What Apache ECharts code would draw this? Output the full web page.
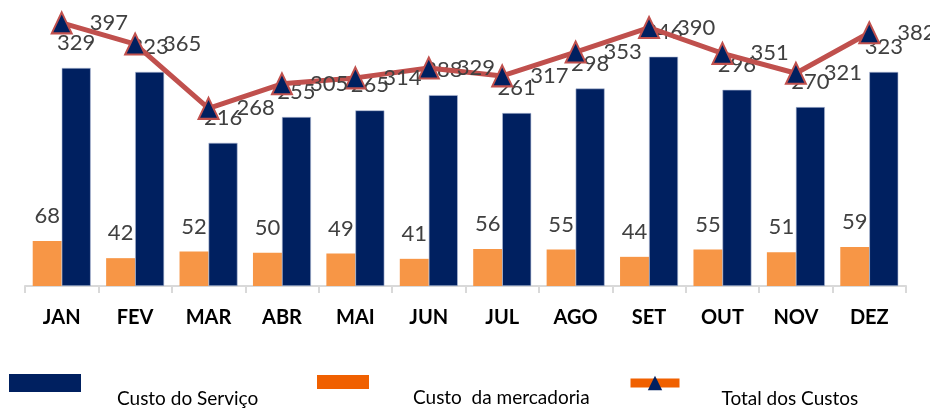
<!DOCTYPE html>
<html>
<head>
<meta charset="utf-8">
<script src="https://cdn.jsdelivr.net/npm/echarts@6/dist/echarts.min.js"></script>
<style>
  html, body { margin: 0; padding: 0; background: #fff; }
  #main { width: 930px; height: 409px; }
</style>
</head>
<body>
<div id="main"></div>
<script>
var meses = ['JAN', 'FEV', 'MAR', 'ABR', 'MAI', 'JUN', 'JUL', 'AGO', 'SET', 'OUT', 'NOV', 'DEZ'];
var custoServico = [329, 323, 216, 255, 265, 288, 261, 298, 346, 296, 270, 323];
var custoMercadoria = [68, 42, 52, 50, 49, 41, 56, 55, 44, 55, 51, 59];
var totalCustos = [397, 365, 268, 305, 314, 329, 317, 353, 390, 351, 321, 382];

var chart = echarts.init(document.getElementById('main'));

var fonte = 'Lato, "Open Sans", sans-serif';
var rotulo = {
    show: true,
    color: '#404040',
    fontSize: 22,
    fontFamily: fonte
};

// legenda: tres blocos soltos, texto um pouco abaixo do icone (linha vazia antes)
var textoLegenda = function (padLeft) {
    return {
        color: '#000',
        fontSize: 19,
        lineHeight: 32,
        fontFamily: fonte,
        padding: [0, 0, 0, padLeft]
    };
};
var abaixo = function (name) { return '\n' + name; };

var option = {
    animation: false,
    grid: { left: 25, right: 24, top: 1, bottom: 123 },
    legend: [
        {
            left: 9, top: 351, padding: 0,
            itemWidth: 72, itemHeight: 18,
            selectedMode: false,
            formatter: abaixo,
            data: [{ name: 'Custo do Serviço', icon: 'rect', itemStyle: { borderWidth: 0 } }],
            textStyle: textoLegenda(31)
        },
        {
            left: 317, top: 350, padding: 0,
            itemWidth: 52, itemHeight: 14,
            selectedMode: false,
            formatter: abaixo,
            data: [{ name: 'Custo  da mercadoria', icon: 'rect', itemStyle: { color: '#f06000', borderWidth: 0 } }],
            textStyle: textoLegenda(39)
        },
        {
            left: 626, top: 351, padding: 0,
            itemWidth: 49, itemHeight: 18,
            selectedMode: false,
            formatter: abaixo,
            data: [{
                name: 'Total dos Custos',
                itemStyle: { color: '#002060', borderWidth: 0 },
                lineStyle: { color: '#f06000', width: 9 }
            }],
            textStyle: textoLegenda(37)
        }
    ],
    xAxis: {
        type: 'category',
        data: meses,
        axisLine: { lineStyle: { color: '#d9d9d9', width: 2 } },
        axisTick: { show: true, length: 7, lineStyle: { color: '#d9d9d9', width: 2 } },
        axisLabel: {
            color: '#000',
            fontWeight: 'bold',
            fontSize: 20,
            fontFamily: fonte,
            margin: 22
        }
    },
    yAxis: {
        type: 'value',
        min: 0,
        max: 430,
        show: false,
        splitLine: { show: false }
    },
    series: [
        {
            name: 'Custo  da mercadoria',
            type: 'bar',
            data: custoMercadoria,
            barWidth: 29,
            barGap: '0%',
            itemStyle: { color: '#f79646' },
            label: Object.assign({ position: 'top', distance: 14 }, rotulo)
        },
        {
            name: 'Custo do Serviço',
            type: 'bar',
            data: custoServico,
            barWidth: 29,
            itemStyle: { color: '#002060', borderColor: '#b4c0d8', borderWidth: 0.6 },
            label: Object.assign({ position: 'top', distance: 14 }, rotulo)
        },
        {
            name: 'Total dos Custos',
            type: 'line',
            data: totalCustos,
            symbol: 'triangle',
            symbolSize: [20, 21],
            lineStyle: { color: '#c0504d', width: 5 },
            itemStyle: { color: '#002060', borderColor: '#c0504d', borderWidth: 2 },
            label: Object.assign({ position: 'right', distance: 17 }, rotulo),
            z: 3
        }
    ]
};

chart.setOption(option);
</script>
</body>
</html>
